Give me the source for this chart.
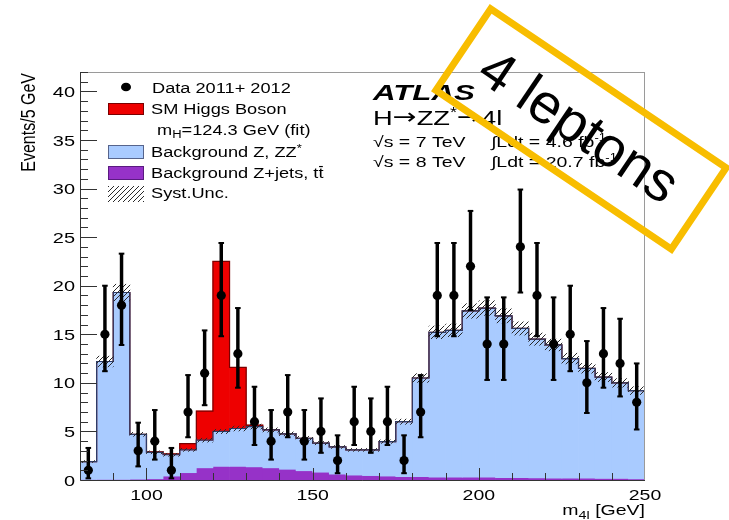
<!DOCTYPE html>
<html>
<head>
<meta charset="utf-8">
<script src="https://cdn.jsdelivr.net/npm/chart.js@4.4.1/dist/chart.umd.min.js"></script>
<style>
  html, body { margin: 0; padding: 0; background: #fff; }
  #wrap { width: 729px; height: 520px; }
</style>
</head>
<body>
<div id="wrap"><canvas id="myChart" width="729" height="520"></canvas></div>
<script>
// m4l bins (low edge, GeV), 5 GeV wide
const binEdges = [80, 85, 90, 95, 100, 105, 110, 115, 120, 125, 130, 135, 140, 145, 150, 155, 160,
    165, 170, 175, 180, 185, 190, 195, 200, 205, 210, 215, 220, 225, 230, 235, 240, 245];
const binWidth = 5;

// observed events and their error bar ends
const dataCounts = [1, 15, 18, 3, 4, 1, 7, 11, 19, 13, 6, 4, 7, 4, 5, 2, 6, 5, 6, 2,
    7, 19, 19, 22, 14, 14, 24, 19, 14, 15, 10, 13, 12, 8];
const dataErrLow = [0.17, 11.2, 13.9, 1.4, 2.1, 0.17, 4.4, 7.7, 14.8, 9.5, 3.6, 2.1, 4.4, 2.1, 2.8, 0.7, 3.6, 2.8, 3.6, 0.7,
    4.4, 14.8, 14.8, 17.5, 10.3, 10.3, 19.3, 14.8, 10.3, 11.2, 6.9, 9.5, 8.6, 5.2];
const dataErrHigh = [3.3, 20.0, 23.3, 5.9, 7.2, 3.3, 10.8, 15.4, 24.4, 17.7, 9.6, 7.2, 10.8, 7.2, 8.4, 4.6, 9.6, 8.4, 9.6, 4.6,
    10.8, 24.4, 24.4, 27.7, 18.8, 18.8, 29.9, 24.4, 18.8, 20.0, 14.3, 17.7, 16.6, 12.0];

// expectations (stacked: Z+jets, ZZ*, Higgs)
const bkgZjets = [0.05, 0.05, 0.05, 0.08, 0.12, 0.4, 0.75, 1.25, 1.4, 1.4, 1.35, 1.25, 1.1, 0.95, 0.8, 0.6, 0.5, 0.45, 0.4, 0.35,
    0.35, 0.3, 0.3, 0.3, 0.28, 0.25, 0.25, 0.22, 0.2, 0.2, 0.18, 0.15, 0.15, 0.12];
const bkgZZ = [1.85, 12.15, 19.25, 4.62, 2.73, 2.2, 2.35, 2.85, 3.6, 3.9, 4.15, 3.9, 3.65, 3.35, 3.0, 2.8, 2.6, 2.65, 3.55, 5.65,
    10.15, 14.9, 15.1, 17.1, 17.42, 16.65, 15.35, 14.28, 13.7, 12.3, 11.32, 10.45, 9.85, 9.08];
const higgsSignal = [0, 0, 0, 0, 0.05, 0.08, 0.65, 3.0, 17.5, 6.3, 0.15, 0.03, 0, 0, 0, 0, 0, 0, 0, 0,
    0, 0, 0, 0, 0, 0, 0, 0, 0, 0, 0, 0, 0, 0];
// half width of the syst. band on the background
const systUnc = [0.1, 0.55, 0.85, 0.2, 0.15, 0.15, 0.15, 0.2, 0.22, 0.25, 0.25, 0.22, 0.2, 0.2, 0.17, 0.15, 0.15, 0.15, 0.18, 0.27,
    0.45, 0.65, 0.65, 0.75, 0.75, 0.72, 0.68, 0.63, 0.6, 0.55, 0.5, 0.47, 0.44, 0.4];

const xTickLabels = [100, 150, 200, 250];
const yTickLabels = [0, 5, 10, 15, 20, 25, 30, 35, 40];
const legendLabels = ["Data 2011+ 2012", "SM Higgs Boson", "=124.3 GeV (fit)", "Background Z, ZZ", "Background Z+jets, t", "Syst.Unc."];

const FONT = "'Liberation Sans', Arial, sans-serif";
const BLUE = "#a9cbff", RED = "#ee0000", PURPLE = "#9632c8";

// stack tops
const centres = binEdges.map((e) => e + binWidth / 2);
const bkgTop = bkgZZ.map((v, i) => v + bkgZjets[i]);
const sigTop = bkgTop.map((v, i) => v + higgsSignal[i]);

function hatch(size) {
    const c = document.createElement("canvas");
    c.width = size;
    c.height = size;
    const g = c.getContext("2d");
    g.strokeStyle = "#2a2a2a";
    g.lineWidth = 1;
    g.beginPath();
    g.moveTo(0, size); g.lineTo(size, 0);
    g.moveTo(-1, 1); g.lineTo(1, -1);
    g.moveTo(size - 1, size + 1); g.lineTo(size + 1, size - 1);
    g.stroke();
    return g.createPattern(c, "repeat");
}
const hatchFill = hatch(5);

// step outline through the bin edges
function steps(tops) {
    const pts = binEdges.map((e, i) => ({ x: e, y: tops[i] }));
    pts.push({ x: binEdges[binEdges.length - 1] + binWidth, y: tops[tops.length - 1] });
    return pts;
}

// text pieces [text, size, dy, style, extra, family] drawn one after another, squeezed wide like the slide
function run(ctx, x, y, parts, align, sx) {
    const fontOf = (p) => (p[3] || "") + " " + p[1] + "px " + (p[5] || FONT);
    let total = 0;
    const widths = parts.map((p) => {
        ctx.font = fontOf(p);
        const w = ctx.measureText(p[0]).width;
        total += w;
        return w;
    });
    let cx = align === "right" ? -total : align === "center" ? -total / 2 : 0;
    ctx.save();
    ctx.translate(x, y);
    ctx.scale(sx, 1);
    ctx.textAlign = "left";
    ctx.textBaseline = "alphabetic";
    ctx.fillStyle = "#000";
    parts.forEach((p, i) => {
        ctx.font = fontOf(p);
        ctx.fillText(p[0], cx, p[2]);
        if (p[4] === "bar") {
            // overbar on the last letter (t-bar)
            const lw = ctx.measureText(p[0].slice(-1)).width;
            ctx.fillRect(cx + widths[i] - lw + 0.5, p[2] - p[1] * 0.86, lw - 1, 1.2);
        }
        cx += widths[i];
    });
    ctx.restore();
}

const decor = {
    id: "atlasDecor",
    afterDatasetsDraw(chart) {
        const ctx = chart.ctx;
        const a = chart.chartArea;
        const xs = chart.scales.x, ys = chart.scales.y;
        ctx.save();
        ctx.lineWidth = 1;
        ctx.strokeStyle = "#9a9a9a";
        ctx.strokeRect(a.left + 0.5, a.top + 0.5, a.right - a.left - 1, a.bottom - a.top);
        ctx.strokeStyle = "#333";
        ctx.beginPath();
        ctx.moveTo(a.left + 0.5, a.top);
        ctx.lineTo(a.left + 0.5, a.bottom + 0.5);
        ctx.lineTo(a.right, a.bottom + 0.5);
        // ticks inside, ROOT style
        for (let v = 1; v <= 42; v++) {
            const py = Math.round(ys.getPixelForValue(v)) + 0.5;
            ctx.moveTo(a.left, py);
            ctx.lineTo(a.left + (v % 5 === 0 ? 17 : 8), py);
        }
        for (let v = 90; v < 250; v += 10) {
            const px = Math.round(xs.getPixelForValue(v)) + 0.5;
            ctx.moveTo(px, a.bottom);
            ctx.lineTo(px, a.bottom - (v % 50 === 0 ? 12 : 7));
        }
        ctx.stroke();
        ctx.restore();
    },
    afterDraw(chart) {
        const ctx = chart.ctx;
        const a = chart.chartArea;
        const xs = chart.scales.x, ys = chart.scales.y;

        // tick labels
        yTickLabels.forEach((v) => {
            run(ctx, a.left - 5, ys.getPixelForValue(v) + 5.5, [[String(v), 15, 0]], "right", 1.33);
        });
        xTickLabels.forEach((v) => {
            run(ctx, xs.getPixelForValue(v), a.bottom + 20, [[String(v), 15, 0]], "center", 1.3);
        });

        // axis titles
        ctx.save();
        ctx.translate(35, 73);
        ctx.scale(1.3, 1);
        ctx.rotate(-Math.PI / 2);
        ctx.font = "16px " + FONT;
        ctx.textAlign = "right";
        ctx.fillStyle = "#000";
        ctx.fillText("Events/5 GeV", 0, 0);
        ctx.restore();
        run(ctx, a.right, 515, [["m", 15, 0], ["4l", 11, 4], [" [GeV]", 15, 0]], "right", 1.3);

        // legend
        ctx.save();
        ctx.fillStyle = "#000";
        ctx.beginPath();
        ctx.ellipse(126, 87, 5, 4.3, 0, 0, Math.PI * 2);
        ctx.fill();
        const box = (y, h, fill, line) => {
            ctx.fillStyle = fill;
            ctx.fillRect(108, y, 36, h);
            if (line) {
                ctx.strokeStyle = line;
                ctx.lineWidth = 1;
                ctx.strokeRect(108.5, y + 0.5, 35, h - 1);
            }
        };
        box(103, 12, RED, "#7a0000");
        box(145, 14, BLUE, "#56648c");
        box(166, 14, PURPLE, "#5a1a80");
        box(186, 16, hatchFill, null);
        ctx.restore();
        const s = 1.3;
        run(ctx, 152, 93, [[legendLabels[0], 14, 0]], "left", s);
        run(ctx, 151, 114, [[legendLabels[1], 14, 0]], "left", s);
        run(ctx, 157, 135, [["m", 14, 0], ["H", 10, 3], [legendLabels[2], 14, 0]], "left", s);
        run(ctx, 151, 157, [[legendLabels[3], 14, 0], ["*", 10, -5]], "left", s);
        run(ctx, 151, 178, [[legendLabels[4], 14, 0], ["t", 14, 0, "", "bar"]], "left", s);
        run(ctx, 151, 198, [[legendLabels[5], 14, 0]], "left", s);

        // ATLAS label block
        const arrowFont = "'DejaVu Sans', sans-serif";
        run(ctx, 373, 100, [["ATLAS", 22, 0, "italic bold"]], "left", 1.42);
        run(ctx, 373, 125, [["H", 21, 0], ["\u2192", 22, -1, "", "", arrowFont], ["ZZ", 21, 0], ["*", 14, -8],
            ["\u2192", 22, -1, "", "", arrowFont], ["4l", 21, 0]], "left", 1.3);
        run(ctx, 373, 147, [["\u221As = 7 TeV", 15, 0]], "left", 1.3);
        run(ctx, 491, 147, [["\u222BLdt = 4.6 fb", 15, 0], ["-1", 10, -6]], "left", 1.3);
        run(ctx, 373, 167, [["\u221As = 8 TeV", 15, 0]], "left", 1.3);
        run(ctx, 491, 167, [["\u222BLdt = 20.7 fb", 15, 0], ["-1", 10, -6]], "left", 1.3);

        // slide annotation
        ctx.save();
        ctx.translate(581, 129);
        ctx.rotate((34 * Math.PI) / 180);
        ctx.strokeStyle = "#f8bd00";
        ctx.lineWidth = 7;
        ctx.strokeRect(-142, -49, 284, 98);
        ctx.fillStyle = "#000";
        ctx.font = "56px " + FONT;
        ctx.textAlign = "center";
        ctx.textBaseline = "middle";
        ctx.fillText("4 leptons", -3, 2);
        ctx.restore();
    },
};

const barOpts = { type: "bar", grouped: false, barPercentage: 1, categoryPercentage: 1, borderWidth: 0 };

const ctx = document.getElementById("myChart").getContext("2d");
const chart = new window.Chart(ctx, {
    type: "bar",
    data: {
        datasets: [
            {
                // data points
                type: "line", order: 0, showLine: false,
                data: centres.map((c, i) => ({ x: c, y: dataCounts[i] })),
                pointRadius: 4.6, pointBackgroundColor: "#000", pointBorderColor: "#000", pointBorderWidth: 0,
            },
            {
                type: "line", order: 1, showLine: false,
                data: centres.map((c, i) => ({ x: c, y: dataErrHigh[i] })),
                pointStyle: "line", pointRadius: 2.8, pointBorderColor: "#000", pointBorderWidth: 2,
            },
            {
                type: "line", order: 1, showLine: false,
                data: centres.map((c, i) => ({ x: c, y: dataErrLow[i] })),
                pointStyle: "line", pointRadius: 2.8, pointBorderColor: "#000", pointBorderWidth: 2,
            },
            {
                ...barOpts, order: 2, barThickness: 2.8, backgroundColor: "#000",
                data: centres.map((c, i) => ({ x: c, y: [dataErrLow[i], dataErrHigh[i]] })),
            },
            {
                ...barOpts, order: 3, backgroundColor: hatchFill,
                data: centres.map((c, i) => ({ x: c, y: [bkgTop[i] - systUnc[i], bkgTop[i] + systUnc[i]] })),
            },
            {
                type: "line", order: 4, stepped: true, data: steps(bkgTop),
                borderColor: "#2e3c68", borderWidth: 1.2, pointRadius: 0, fill: false,
            },
            {
                type: "line", order: 5, stepped: true, data: steps(sigTop),
                borderColor: "#7a0000", borderWidth: 1.2, pointRadius: 0, fill: false,
            },
            {
                ...barOpts, order: 6, backgroundColor: RED,
                data: centres.map((c, i) => ({ x: c, y: [bkgTop[i], sigTop[i]] })).filter((d, i) => higgsSignal[i] > 0),
            },
            {
                ...barOpts, order: 7, backgroundColor: BLUE,
                data: centres.map((c, i) => ({ x: c, y: [bkgZjets[i], bkgTop[i]] })),
            },
            {
                ...barOpts, order: 8, backgroundColor: PURPLE,
                data: centres.map((c, i) => ({ x: c, y: [0, bkgZjets[i]] })),
            },
        ],
    },
    options: {
        responsive: false,
        devicePixelRatio: 1,
        animation: false,
        events: [],
        layout: { padding: { left: 80, right: 84, top: 72, bottom: 40 } },
        plugins: { legend: { display: false }, tooltip: { enabled: false } },
        scales: {
            x: { type: "linear", min: 80, max: 250, offset: false, display: false },
            y: { type: "linear", min: 0, max: 42, display: false },
        },
    },
    plugins: [decor],
});
</script>
</body>
</html>
